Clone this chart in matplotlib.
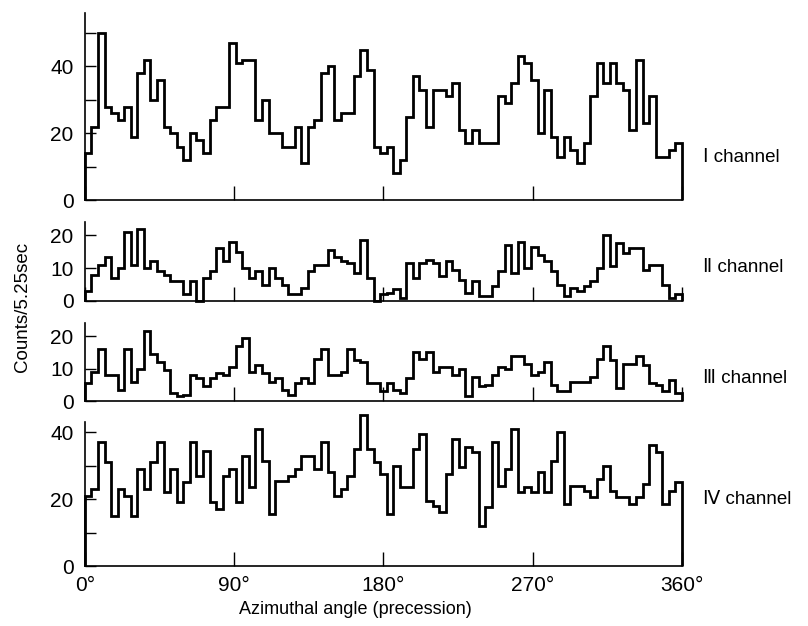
import numpy as np
import matplotlib.pyplot as plt

# counts per 5.25 s, 91 bins over one precession turn
ch1 = [14, 22, 50, 28, 26, 24, 28, 19, 38, 42,
       30, 36, 22, 20, 16, 12, 20, 18, 14, 24,
       28, 28, 47, 41, 42, 42, 24, 30, 20, 20,
       16, 16, 22, 11, 22, 24, 38, 40, 24, 26,
       26, 37, 45, 39, 16, 14, 16, 8, 12, 25,
       37, 33, 22, 33, 33, 31, 35, 21, 17, 21,
       17, 17, 17, 31, 29, 35, 43, 41, 36, 20,
       33, 19, 13, 19, 15, 11, 17, 31, 41, 35,
       41, 35, 33, 21, 42, 23, 31, 13, 13, 15,
       17]
ch2 = [3, 8, 11, 13.5, 7, 10, 21, 11, 22, 10,
       12, 9, 8, 6, 6, 2, 6, 0, 7, 9,
       16, 12, 18, 15, 10, 7, 9, 5, 10, 7,
       5, 2, 2, 4, 9, 11, 11, 15.5, 13.5, 12,
       11.5, 8.5, 18.5, 7, 0, 2, 2.5, 3.5, 1, 11.5,
       7, 11.5, 12.5, 11.5, 7.5, 12, 9.5, 6.5, 2.5, 6,
       1.5, 1.5, 4.5, 9, 17, 8.5, 18, 10, 16.5, 14,
       12, 9, 5, 1.5, 4, 3, 4.5, 6, 10, 20,
       10.5, 17.5, 14.5, 16, 16, 9.5, 11, 11, 5, 1,
       2]
ch3 = [5.5, 9, 16, 8, 8, 3.5, 16, 6, 10, 21.5,
       14.5, 12, 9.5, 2.5, 1.5, 2, 8, 7, 4.5, 7,
       8.5, 8, 10.5, 17, 19.5, 9, 11, 8.5, 6, 7,
       3.5, 2, 5.5, 7, 5.5, 13, 16, 8, 8, 9,
       16, 12.5, 12, 5.5, 5.5, 3, 5.5, 3.5, 2.5, 7,
       15, 13, 15, 9, 10.5, 10.5, 8, 10, 1.5, 7.5,
       4.5, 5, 8, 10.5, 10, 14, 14, 11.5, 8, 9,
       12, 5, 3, 3, 6, 6, 6, 7.5, 13, 17,
       12.5, 4, 11.5, 11.5, 14, 11, 5.5, 5, 3, 6.5,
       2.5]
ch4 = [21, 23, 37, 31, 15, 23, 21, 15, 29, 23,
       31, 37, 22, 29, 19, 25, 37, 27, 34.5, 19,
       17, 27, 29, 19, 33, 23.5, 41, 31.5, 15.5, 25.5,
       25.5, 27, 29, 33, 33, 29, 37, 28, 21, 23,
       27, 35, 45, 35, 31, 27.5, 15.5, 30, 23.5, 23.5,
       35, 39.5, 19.5, 18, 16, 27.5, 38, 29.5, 35.5, 34,
       12, 17.5, 37, 24, 29, 41, 22, 23.5, 22, 28,
       22, 31.5, 40, 18.5, 24, 24, 22.5, 20.5, 26, 30,
       22.5, 20.5, 20.5, 18.5, 20.5, 24.5, 36, 34, 18.5, 22.5,
       25]

channels = ['Ⅰ channel', 'Ⅱ channel', 'Ⅲ channel', 'Ⅳ channel']
label_y = [0.23, 0.42, 0.29, 0.46]
ymax = [56, 24, 24, 43]
major = [[0, 20, 40], [0, 10, 20], [0, 10, 20], [0, 20, 40]]
minor = [[10, 30, 50], [], [], [10, 30]]
angles = [0, 90, 180, 270, 360]
angle_labels = ['0°', '90°', '180°', '270°', '360°']

plt.rcParams['font.family'] = ['Liberation Sans', 'DejaVu Sans']
plt.rcParams['font.size'] = 14

fig = plt.figure(figsize=(8.08, 6.26), dpi=100)

# left, bottom, width, height of each panel
boxes = [(0.105, 0.6805, 0.739, 0.2987),
         (0.105, 0.5192, 0.739, 0.1262),
         (0.105, 0.3594, 0.739, 0.1246),
         (0.105, 0.0958, 0.739, 0.2300)]

for i, counts in enumerate([ch1, ch2, ch3, ch4]):
    ax = fig.add_axes(boxes[i])
    edges = np.linspace(0, 360, len(counts) + 1)
    # peaks may poke above the short y axis, so no clipping
    ax.stairs(counts, edges, baseline=0, color='black', linewidth=2.0,
              clip_on=False)
    ax.set_xlim(0, 360)
    ax.set_ylim(0, ymax[i])
    for s in ['top', 'right']:
        ax.spines[s].set_visible(False)
    for s in ['left', 'bottom']:
        ax.spines[s].set_linewidth(1.2)
    ax.set_yticks(major[i])
    ax.set_yticks(minor[i], minor=True)
    ax.set_xticks(angles)
    ax.tick_params(axis='both', which='both', direction='in', width=1.0,
                   labelsize=15)
    ax.tick_params(axis='y', which='both', length=8, pad=8)
    ax.tick_params(axis='x', length=10, pad=7)
    if i == 3:
        ax.set_xticklabels(angle_labels)
    else:
        ax.set_xticklabels([])
    ax.text(1.035, label_y[i], channels[i], transform=ax.transAxes,
            ha='left', va='center', fontsize=13.5)

fig.text(0.028, 0.51, 'Counts/5.25sec', rotation=90, ha='center', va='center',
         fontsize=13.5)
fig.text(0.44, 0.012, 'Azimuthal angle (precession)', ha='center', va='bottom',
         fontsize=13)

fig.savefig('out.png', dpi=100)
